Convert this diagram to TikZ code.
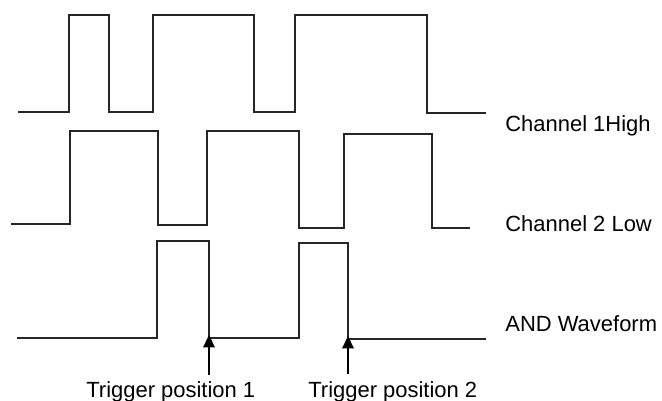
\documentclass[tikz,border=0pt]{standalone}
\usepackage{fontspec}
\setmainfont{Liberation Sans}
\usetikzlibrary{arrows.meta}

\begin{document}
\begin{tikzpicture}[x=0.02cm,y=-0.02cm,
        wave/.style={draw=black!85,line width=0.9pt},
        lbl/.style={anchor=base west,inner sep=0pt,font=\fontsize{12.5}{15}\selectfont},
        trig/.style={-{Triangle[length=7pt,width=6.5pt]},line width=0.9pt}]
                \useasboundingbox (0,0) rectangle (662,401);

                % Channel 1
                \draw[wave] (18,112)--(69,112)--(69,15)--(109,15)--(109,112)--(153,112)
                    --(153,15)--(254,15)--(254,112)--(295,112)--(295,15)--(427,15)
                    --(427,113)--(486,113);
                % Channel 2
                \draw[wave] (11,224)--(70,224)--(70,131)--(158,131)--(158,225)--(207,225)
                    --(207,131)--(299,131)--(299,228)--(344,228)--(344,134)--(432,134)
                    --(432,228)--(470,228);
                % AND
                \draw[wave] (17,338)--(157,338)--(157,241)--(209,241)--(209,338)--(299,338)
                    --(299,243)--(348,243)--(348,339)--(486,339);

                \foreach \N/\y/\T in{ch1/132/Channel 1High,ch2/232/Channel 2 Low,andw/332/AND Waveform}
                {
                    \node[lbl] (\N) at (505,\y) {\T};
                }

                \foreach \N/\x/\k in{trig1/86/1,trig2/308/2}
                {
                    \node[lbl] (\N) at (\x,398) {Trigger position \k};
                }

                \coordinate (tip1) at (209,335);
                \coordinate (tail1) at (209,375);
                \coordinate (tip2) at (348,336);
                \coordinate (tail2) at (348,374);
                \draw[trig] (tail1)--(tip1);
                \draw[trig] (tail2)--(tip2);
            \end{tikzpicture}
\end{document}
